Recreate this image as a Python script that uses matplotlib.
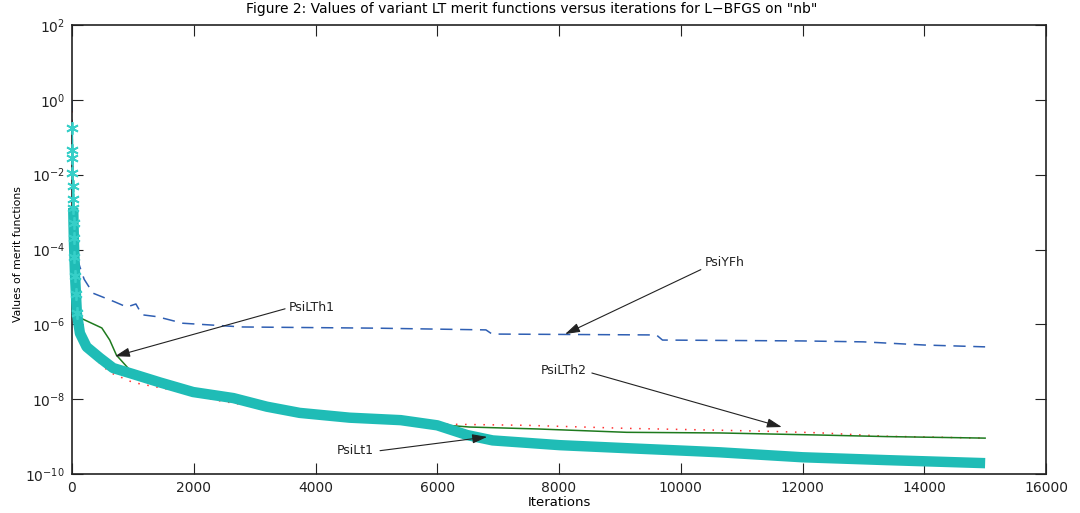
import matplotlib
matplotlib.use("Agg")
import matplotlib.pyplot as plt
import numpy as np

plt.rcParams['font.family'] = ['DejaVu Sans']

# ---------------- data ----------------
it_yfh = [0, 10, 30, 50, 100, 130, 200, 345, 700, 900, 1050, 1150, 1400, 1820,
          2800, 5000, 6800, 6900, 9600, 9700, 12000, 13000, 14000, 15000]
v_yfh = [1.0, 1e-2, 1e-3, 1e-3, 5e-5, 3.4e-5, 1.6e-5, 6.8e-6, 4e-6, 2.9e-6, 3.5e-6,
         1.8e-6, 1.6e-6, 1.07e-6, 8.5e-7, 7.9e-7, 7.1e-7, 5.5e-7, 5.2e-7, 3.8e-7,
         3.6e-7, 3.4e-7, 2.8e-7, 2.5e-7]

it_lth1 = [0, 10, 30, 60, 130, 490, 620, 730, 950, 1445, 2000, 3000, 4500, 6000,
           6530, 7640, 9110, 10640, 12280, 13380, 15000]
v_lth1 = [1e-1, 1e-2, 1e-3, 1e-4, 1.5e-6, 8e-7, 3.8e-7, 1.5e-7, 6e-8, 2.8e-8,
          1.55e-8, 7e-9, 3.2e-9, 2.1e-9, 1.8e-9, 1.6e-9, 1.3e-9, 1.25e-9, 1.1e-9,
          1.0e-9, 9.1e-10]

it_lth2 = [0, 10, 30, 60, 130, 250, 430, 620, 1000, 1560, 2380, 3000, 4500, 6090,
           7470, 9110, 10640, 11460, 12280, 13380, 15000]
v_lth2 = [5e-1, 1e-2, 1e-3, 1e-4, 1.6e-6, 2e-7, 1e-7, 5.2e-8, 2.8e-8, 1.86e-8,
          9.3e-9, 6.3e-9, 3.2e-9, 2.15e-9, 2.0e-9, 1.66e-9, 1.48e-9, 1.38e-9,
          1.26e-9, 1.02e-9, 9.1e-10]

it_lt1 = [0, 2, 5, 8, 12, 16, 20, 25, 30, 40, 50, 65, 80, 130, 240, 460, 675, 1000,
          1445, 1990, 2650, 3200, 3740, 4560, 5400, 6000, 6490, 6910, 8010, 9110,
          10200, 10640, 12000, 13380, 15000]
v_lt1 = [1.8e-1, 4.6e-2, 2.8e-2, 1.1e-2, 5.0e-3, 2.2e-3, 1.3e-3, 5e-4, 2e-4, 6.3e-5,
         2e-5, 6.3e-6, 2e-6, 5.8e-7, 2.5e-7, 1.26e-7, 6.8e-8, 4.7e-8, 2.8e-8,
         1.55e-8, 1.07e-8, 6.3e-9, 4.3e-9, 3.2e-9, 2.75e-9, 2.0e-9, 1.1e-9, 7.9e-10,
         5.9e-10, 4.9e-10, 4.1e-10, 3.8e-10, 2.8e-10, 2.35e-10, 1.95e-10]
n_star = 7  # leading PsiLt1 points drawn as separate asterisks on a thin line

x_ticks = [0, 2000, 4000, 6000, 8000, 10000, 12000, 14000, 16000]
y_ticks = [1e-10, 1e-8, 1e-6, 1e-4, 1e-2, 1e0, 1e2]

title = 'Figure 2: Values of variant LT merit functions versus iterations for L\u2212BFGS on "nb"'

# annotations: (label, text pos, arrow tail, arrow tip, ha)
notes = [
    ("PsiYFh", (10400, 4.4e-5), (10330, 2.9e-5), (8100, 5.5e-7), 'left'),
    ("PsiLTh1", (3560, 2.9e-6), (3500, 2.6e-6), (706, 1.4e-7), 'left'),
    ("PsiLTh2", (8460, 6.0e-8), (8540, 5.0e-8), (11660, 1.8e-9), 'right'),
    ("PsiLt1", (4960, 4.2e-10), (5060, 4.2e-10), (6820, 9.8e-10), 'right'),
]

# ---------------- figure ----------------
fig = plt.figure(figsize=(10.8, 5.13), dpi=100)
ax = fig.add_axes([72/1080, 1-474/513, (1046-72)/1080, (474-25)/513])

cyan = '#1fbcb6'
ax.plot(it_lt1[:n_star], v_lt1[:n_star], color=cyan, lw=1.6, zorder=3)
ax.plot(it_lt1[n_star - 1:], v_lt1[n_star - 1:], color=cyan, lw=7.5,
        solid_capstyle='butt', solid_joinstyle='round', zorder=3, clip_on=False)
ax.plot(it_lt1[:n_star + 6], v_lt1[:n_star + 6], ls='none', marker=(6, 2, 0), ms=9,
        mec='#36cfc8', mew=1.3, zorder=4, clip_on=False)
ax.plot(it_yfh, v_yfh, color='#2f5fb3', lw=1.1, ls=(0, (8, 5)), zorder=2)
ax.plot(it_lth2, v_lth2, color='#ff3030', lw=1.1, ls=(0, (1, 5)), zorder=2)
ax.plot(it_lth1, v_lth1, color='#1e7a1e', lw=1.1, zorder=2)

ax.set_yscale('log')
ax.set_xlim(0, 16000)
ax.set_ylim(1e-10, 1e2)
ax.set_xticks(x_ticks)
ax.set_xticklabels([str(t) for t in x_ticks])
ax.set_yticks(y_ticks)
ax.yaxis.set_minor_locator(matplotlib.ticker.NullLocator())
ax.tick_params(direction='in', length=8, width=0.8, top=True, right=True,
               labelsize=10, colors='#222222', pad=5)
for s in ax.spines.values():
    s.set_linewidth(1.2)
    s.set_color('#222222')
    s.set_zorder(2.5)

ax.set_xlabel('Iterations', fontsize=9.5, labelpad=1)
ax.set_ylabel('Values of merit functions', fontsize=7.8)
ax.yaxis.set_label_coords(-0.050, 0.49)
fig.text(532/1080, 1-9/513, title, fontsize=10, ha='center', va='center')

for label, tpos, tail, tip, ha in notes:
    ax.text(tpos[0], tpos[1], label, fontsize=9, ha=ha, va='center', color='#222222')
    ax.annotate('', xy=tip, xytext=tail,
                arrowprops=dict(arrowstyle='-|>,head_length=0.9,head_width=0.28',
                                color='#222222', lw=0.8, shrinkA=0, shrinkB=0))

fig.savefig('out.png', dpi=100)
